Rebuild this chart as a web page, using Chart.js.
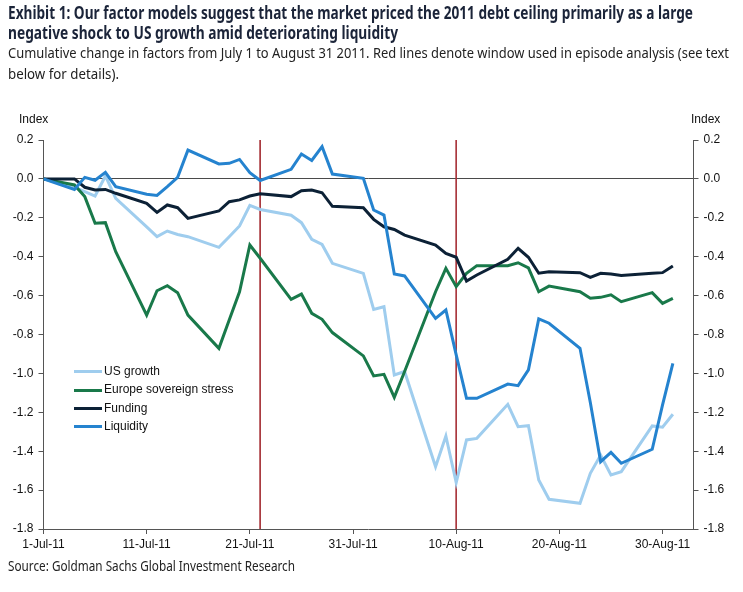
<!DOCTYPE html>
<html>
<head>
<meta charset="utf-8">
<script src="https://cdn.jsdelivr.net/npm/chart.js@4"></script>
<style>
  body { margin: 0; background: #fff; }
  #wrap { position: relative; width: 743px; height: 592px; overflow: hidden; }
  #c { position: absolute; left: 0; top: 0; }
  .t { position: absolute; white-space: nowrap; color: #1b2439; transform-origin: 0 0; }
  .title { font-family: "Noto Sans", "Liberation Sans", sans-serif; font-weight: bold; font-size: 17px; line-height: 17px; }
  .sub { font-family: "Noto Sans", "Liberation Sans", sans-serif; font-size: 15px; line-height: 15px; color: #222; }
  .small { font-family: "Liberation Sans", Arial, sans-serif; font-size: 12px; color: #111; }
  .leg { position: absolute; left: 74px; font-family: "Liberation Sans", Arial, sans-serif; font-size: 12px; color: #111; }
  .leg span { display: inline-block; width: 28px; height: 3px; vertical-align: middle; margin-right: 2px; }
</style>
</head>
<body>
<div id="wrap">
  <canvas id="c" width="743" height="592"></canvas>
  <div class="t title fit" data-w="685" style="left:8px;top:4px;">Exhibit 1: Our factor models suggest that the market priced the 2011 debt ceiling primarily as a large</div>
  <div class="t title fit" data-w="390" style="left:8px;top:24px;">negative shock to US growth amid deteriorating liquidity</div>
  <div class="t sub fit" data-w="721" style="left:8px;top:44.5px;">Cumulative change in factors from July 1 to August 31 2011. Red lines denote window used in episode analysis (see text</div>
  <div class="t sub fit" data-w="111" style="left:8px;top:65.5px;">below for details).</div>
  <div class="t small" style="left:19px;top:112px;">Index</div>
  <div class="t small" style="left:691px;top:112px;">Index</div>
  <div id="legend"></div>
  <div class="t sub fit" data-w="287" style="left:8px;top:559px;font-size:14px;line-height:14px;">Source: Goldman Sachs Global Investment Research</div>
</div>
<script>
// trading days, counted from 1-Jul-11
let days = [0, 3, 4, 5, 6, 7, 10, 11, 12, 13, 14, 17, 18, 19, 20, 21, 24, 25, 26, 27, 28,
            31, 32, 33, 34, 35, 38, 39, 40, 41, 42, 45, 46, 47, 48, 49, 52, 53, 54, 55, 56, 59, 60, 61];

let usGrowth = [0, -0.043, -0.065, -0.088, 0.015, -0.10, -0.247, -0.297, -0.268, -0.286, -0.297,
                -0.352, -0.297, -0.242, -0.136, -0.157, -0.187, -0.225, -0.311, -0.337, -0.434,
                -0.486, -0.671, -0.657, -1.008, -0.99, -1.48, -1.322, -1.562, -1.342, -1.334,
                -1.159, -1.274, -1.269, -1.548, -1.647, -1.668, -1.514, -1.42, -1.522, -1.505,
                -1.27, -1.277, -1.21];

let europe = [0, -0.031, -0.091, -0.228, -0.225, -0.374, -0.70, -0.575, -0.549, -0.585, -0.70,
              -0.871, -0.725, -0.58, -0.34, -0.408, -0.619, -0.592, -0.691, -0.722, -0.79,
              -0.91, -1.013, -1.005, -1.123, -0.99, -0.58, -0.46, -0.554, -0.486, -0.446,
              -0.446, -0.431, -0.457, -0.58, -0.551, -0.58, -0.614, -0.609, -0.596, -0.631,
              -0.585, -0.64, -0.614];

let funding = [0, 0.0, -0.043, -0.057, -0.054, -0.074, -0.126, -0.172, -0.134, -0.148, -0.203,
               -0.165, -0.117, -0.108, -0.088, -0.076, -0.091, -0.061, -0.057, -0.071, -0.141,
               -0.148, -0.208, -0.246, -0.26, -0.289, -0.34, -0.383, -0.403, -0.525, -0.494,
               -0.413, -0.357, -0.403, -0.485, -0.477, -0.482, -0.506, -0.485, -0.489, -0.497,
               -0.485, -0.482, -0.448];

let liquidity = [0, -0.054, 0.008, -0.007, 0.034, -0.04, -0.079, -0.085, -0.04, 0.008, 0.148,
                 0.077, 0.08, 0.10, 0.032, -0.008, 0.049, 0.128, 0.095, 0.166, 0.025,
                 0.003, -0.16, -0.186, -0.489, -0.499, -0.717, -0.674, -0.905, -1.128, -1.128,
                 -1.055, -1.063, -0.982, -0.72, -0.742, -0.871, -1.15, -1.454, -1.406, -1.462,
                 -1.39, -1.162, -0.948];

let tickDays = [0, 10, 20, 30, 40, 50, 60];
let tickLabels = ['1-Jul-11', '11-Jul-11', '21-Jul-11', '31-Jul-11', '10-Aug-11', '20-Aug-11', '30-Aug-11'];
let windowDays = [21, 40];   // 22-Jul-11 and 10-Aug-11

let seriesNames = ['US growth', 'Europe sovereign stress', 'Funding', 'Liquidity'];
let seriesColors = ['#9fcdee', '#19794a', '#0c2136', '#2583cf'];
let seriesValues = [usGrowth, europe, funding, liquidity];

const yMin = -1.8, yMax = 0.2;

// squeeze text lines to the width they have in the exhibit (no condensed font here)
document.querySelectorAll('.fit').forEach(el => {
    let w = el.getBoundingClientRect().width;
    el.style.transform = 'scaleX(' + (parseFloat(el.dataset.w) / w) + ')';
});

function pts(vals)
{
    return days.map((d, i) => ({ x: d, y: vals[i] }));
}

let datasets = [];
for (let i = 0; i < seriesNames.length; ++i)
{
    datasets.push({
        label: seriesNames[i],
        data: pts(seriesValues[i]),
        borderColor: seriesColors[i],
        backgroundColor: seriesColors[i],
        borderWidth: 3,
        pointRadius: 0,
        tension: 0,
        order: 4 - i
    });
}
windowDays.forEach(d => {
    datasets.push({
        label: '',
        data: [{ x: d, y: yMax }, { x: d, y: yMin }],
        borderColor: '#a8343a',
        borderWidth: 1,
        pointRadius: 0,
        order: 10
    });
});

// legend (html)
let legendHtml = '';
seriesNames.forEach((n, i) => {
    legendHtml += '<div class="leg" style="top:' + (364 + i * 18.3) + 'px"><span style="background:' +
        seriesColors[i] + '"></span>' + n + '</div>';
});
document.getElementById('legend').innerHTML = legendHtml;

const tickFont = { family: '"Liberation Sans", Arial, sans-serif', size: 12 };

function yAxis(pos, w)
{
    return {
        type: 'linear',
        position: pos,
        min: yMin,
        max: yMax,
        ticks: {
            stepSize: 0.2,
            color: '#111',
            font: tickFont,
            padding: 5,
            callback: v => (Math.abs(v) < 1e-9 ? 0 : v).toFixed(1)
        },
        grid: {
            drawOnChartArea: pos == 'left',
            color: c => (c.tick && Math.abs(c.tick.value) < 1e-9) ? '#4a4a4a' : 'rgba(0,0,0,0)',
            lineWidth: 1,
            tickColor: '#555',
            tickLength: 5
        },
        border: { color: '#555', width: 1 },
        afterFit: s => { s.width = w; }
    };
}

const myChart = new Chart(document.getElementById('c'), {
    type: 'line',
    data: { datasets: datasets },
    options: {
        responsive: false,
        animation: false,
        layout: { padding: { top: 140, left: 0, right: 0, bottom: 0 } },
        plugins: { legend: { display: false }, tooltip: { enabled: false } },
        scales: {
            x: {
                type: 'linear',
                min: 0,
                max: 63,
                afterBuildTicks: s => { s.ticks = tickDays.map(v => ({ value: v })); },
                ticks: {
                    autoSkip: false,
                    maxRotation: 0,
                    color: '#111',
                    font: tickFont,
                    padding: 3,
                    callback: (v, i) => tickLabels[i]
                },
                grid: { drawOnChartArea: false, tickColor: '#555', tickLength: 5 },
                border: { color: '#555', width: 1 },
                afterFit: s => { s.height = 63; }
            },
            y: yAxis('left', 43.5),
            y2: yAxis('right', 49.5)
        }
    }
});
</script>
</body>
</html>
